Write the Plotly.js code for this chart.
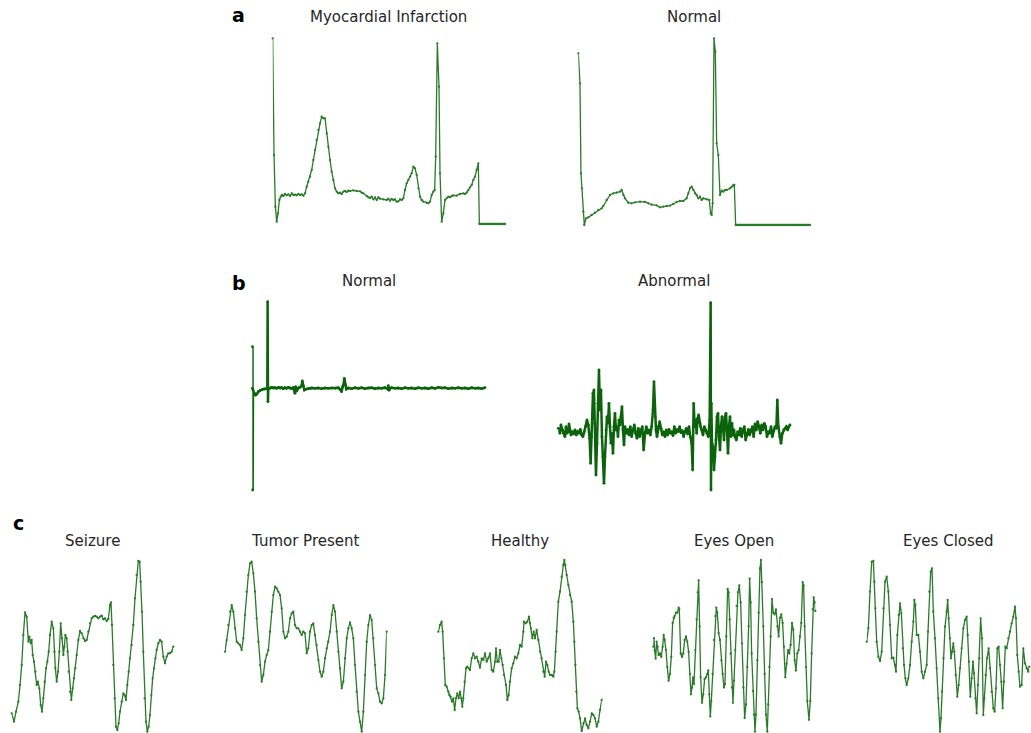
<!DOCTYPE html>
<html><head><meta charset="utf-8">
<script src="https://cdn.plot.ly/plotly-3.0.1.min.js"></script>
<style>html,body{margin:0;padding:0;background:#fff}</style>
</head><body><div id="chart" style="width:1031px;height:733px"></div>
<script>
// ---------- DATA ----------
// a: ECG – Myocardial Infarction
const miT = [38,42,46,50,54,58,62,66,70,75,80,85,90,95,100,105,110,115,120,125,130,135,140,145,150,155,160,165,170,175,180,185,190,195,200,205,210,215,220,225,230,235,240,245,250,255,260,265,270,280,290,300,305,310,320,325,330,335,340,345,350,355,360,370,380,385,390,395,400,405,410,415,420,425,430,435,440,445,450,455,460,465,470,475,480,485,490,500,505,510,515,520,524,527,532,537,540,545,550,555,560,565,570,575,580,590,600,610,615,620,625,630,635,640,645,650,655,658,661,664,667,670,673,676,679,682,685,688,691,694,697,700,703,706,709,712,715,718,721,724,727,730,733,735];
const miV = [485,135,-20,-65,-40,0,10,15,12,18,14,17,12,20,15,16,14,18,15,17,13,20,40,55,70,90,120,150,180,210,230,250,245,245,200,160,120,85,60,35,25,20,22,18,25,27,24,28,27,29,27,26,22,20,12,8,6,10,2,8,0,8,4,2,0,4,-2,3,0,2,-5,-4,2,0,5,30,50,60,70,80,100,95,75,35,10,0,-5,-8,-10,-5,15,25,30,130,470,340,80,-65,-40,0,5,10,8,12,14,13,18,20,18,22,30,38,45,60,70,90,110,-72,-72,-72,-72,-72,-72,-72,-72,-72,-72,-72,-72,-72,-72,-72,-72,-72,-72,-72,-72,-72,-72,-72,-72,-72,-72,-72,-72];
// a: ECG – Normal
const nT = [55,60,63,66,70,73,78,85,95,105,115,125,130,140,150,160,170,180,185,190,195,205,215,225,240,255,265,275,290,300,310,320,330,340,350,360,370,380,385,390,395,400,405,410,415,420,425,430,440,448,452,455,458,462,466,470,475,480,485,490,495,500,510,515,520,523,527,530,533,536,539,542,545,548,551,554,557,560,563,566,569,572,575,578,581,584,587,590,593,596,599,602,605,608,611,614,617,620,623,626,629,632,635,638,641,644,647,650,653,656,659,662,665,668,671,674,677,680,683,686,689,692,695,698,701,704,707,710,713,716,719,722,725,728,731,734,737,740,743,746,750];
const nV = [440,350,80,35,-35,-75,-55,-52,-45,-38,-30,-25,-18,0,15,20,22,25,30,15,5,-8,-10,-7,-5,-6,-10,-14,-16,-22,-20,-18,-17,-12,-6,-3,-3,5,20,35,40,30,20,15,5,10,0,5,2,0,-40,-45,-10,485,445,170,135,15,28,25,30,30,35,40,45,45,-75,-75,-75,-75,-75,-75,-75,-75,-75,-75,-75,-75,-75,-75,-75,-75,-75,-75,-75,-75,-75,-75,-75,-75,-75,-75,-75,-75,-75,-75,-75,-75,-75,-75,-75,-75,-75,-75,-75,-75,-75,-75,-75,-75,-75,-75,-75,-75,-75,-75,-75,-75,-75,-75,-75,-75,-75,-75,-75,-75,-75,-75,-75,-75,-75,-75,-75,-75,-75,-75,-75,-75,-75,-75,-75,-75,-75,-75,-75,-75,-75];
// b: Normal
const bnT = [82,82.5,83,84,88,92,96,100,106,112,118,124,127,128,129,130,135,140,145,150,155,160,165,170,175,180,185,190,195,200,205,210,212,215,220,225,230,232,235,238,242,248,255,260,270,280,290,300,310,320,330,340,345,350,353,356,358,361,364,370,380,390,400,410,420,430,440,450,460,470,480,488,490,492,495,500,510,520,530,540,550,560,570,580,590,600,610,620,630,640,650,660,670,680,690,700,710,720,730,740,750,760,770,780];
const bnV = [0,125,-305,-5,-15,-20,-17,-10,-6,-3,-2,-1,0,260,-40,2,0,3,1,2,0,3,1,2,-1,2,0,3,1,-1,2,-15,5,-8,1,3,8,22,8,-5,-3,-1,0,1,0,1,-1,1,0,1,0,2,-3,-10,5,12,30,10,-2,1,-1,2,0,2,-1,1,2,-1,1,0,2,-2,8,-6,0,2,0,1,-1,2,0,1,-1,2,0,1,-1,2,0,3,1,2,-1,1,0,2,0,1,-1,2,0,1,-1,2];
// b: Abnormal
const baT = [40,45,48,52,56,60,63,66,70,72,75,78,82,86,90,94,98,102,106,110,114,118,122,126,130,134,137,140,144,147,150,153,156,159,162,165,168,171,174,177,180,183,186,189,192,195,198,201,204,207,210,213,216,219,222,225,228,231,234,237,240,244,248,252,256,260,264,268,272,276,280,284,288,292,296,300,304,308,312,316,320,324,327,330,333,336,340,344,348,352,356,360,364,368,372,376,380,384,388,392,396,400,404,408,412,416,420,424,428,432,436,440,443,446,449,452,455,458,461,464,467,470,474,478,482,486,490,494,496,497,498,499,501,504,507,510,513,516,519,522,525,528,531,534,537,540,543,546,549,552,555,558,561,564,567,570,574,578,582,586,590,594,598,602,606,610,614,618,622,626,630,634,638,642,646,650,654,658,662,666,670,674,678,682,686,690,694,697,700,704,708,712,716,720,724,728,732,735];
const baV = [13,-2,23,8,-2,-12,18,-2,3,26,8,-7,3,-4,8,-7,3,-2,10,-7,-12,3,18,38,23,-17,-92,-12,118,128,28,-127,-32,88,188,68,128,-12,-72,-152,-72,8,48,28,88,18,-32,-2,-62,18,58,8,18,-12,38,23,48,78,8,-37,18,-2,10,-7,18,-12,8,23,-2,-17,13,-12,8,18,-52,-2,18,-2,8,-7,18,68,153,48,8,-12,18,33,13,-7,3,-12,8,-7,10,-2,3,-9,18,-2,8,3,18,0,6,-12,3,13,-4,18,-12,-32,-112,88,18,38,-2,43,53,28,18,8,-7,18,8,-2,-12,38,188,390,-172,88,-32,-42,-112,-72,-22,48,58,-12,-52,18,48,18,-22,48,58,8,-62,18,48,-12,28,-7,8,-12,-22,3,-7,13,-12,8,18,-22,-2,10,-7,8,18,-12,26,8,33,18,-2,23,8,28,18,-12,3,-2,18,-12,8,18,13,98,18,-12,-32,-2,8,13,18,8,18,23];
// c: EEG
const szT = [35,42,48,55,60,65,70,75,80,85,88,92,95,98,102,106,110,114,118,122,126,130,134,138,142,146,150,155,160,163,166,170,174,178,182,186,190,193,196,200,203,206,210,214,218,222,226,230,235,240,245,250,255,260,265,270,275,280,285,290,295,300,305,310,315,320,325,330,333,336,340,344,348,352,356,360,365,370,374,378,382,386,390,395,400,405,410,415,419,422,426,430,434,438,442,446,450,454,458,462,466,470,475,480,485,490,495,500,505,510,515,520];
const szV = [55,30,60,90,140,200,290,358,345,270,285,265,275,230,210,180,140,150,130,80,60,100,150,190,210,240,290,330,310,240,190,150,180,240,325,280,230,255,290,280,240,180,120,95,130,160,190,230,275,302,295,280,272,275,300,325,340,345,347,345,340,345,348,337,340,332,338,380,388,320,200,100,15,5,25,60,90,115,110,95,140,180,220,260,320,400,470,512,510,450,360,240,100,30,0,15,50,110,160,190,220,245,265,275,270,225,205,225,235,235,240,255];
const tpT = [45,50,55,60,65,70,75,80,85,90,95,100,105,110,115,120,125,130,135,140,145,150,155,160,165,170,175,180,185,190,195,200,205,210,215,220,225,230,235,240,245,250,255,260,265,270,275,280,285,290,295,300,305,310,315,320,325,330,335,340,345,350,355,360,365,370,375,380,385,390,395,400,405,410,415,420,425,430,435,440,445,450,455,460,465,470,475,480,485,490,495,500,505,510,515,520,525,530];
const tpV = [240,275,320,360,380,360,310,270,265,260,245,280,350,420,470,505,510,475,420,340,270,200,150,170,210,230,245,300,360,410,435,430,420,410,370,300,280,285,300,340,355,360,320,310,310,300,290,300,295,235,250,300,320,325,290,260,215,180,165,180,220,250,270,300,350,380,360,300,240,190,130,150,220,280,310,328,310,280,200,120,60,30,0,60,170,270,320,350,335,280,200,130,115,90,85,100,170,300];
const hyT = [55,60,65,68,72,76,80,85,88,92,96,100,104,108,112,116,120,124,127,130,134,138,142,146,150,155,160,165,170,175,180,185,190,195,200,205,210,215,220,225,228,232,236,240,244,248,252,258,262,266,270,275,280,285,290,295,300,305,310,312,317,322,327,330,333,337,341,345,350,355,360,365,370,374,378,382,386,390,395,400,403,407,410,415,420,425,430,433,436,440,445,450,455,460,463,466,469,472,476,480,485,490,495,500,505,510,515,520,525,530,535,540,545];
const hyV = [300,320,330,300,220,140,135,120,110,105,90,100,65,100,115,100,120,100,75,100,150,190,195,190,185,220,235,220,225,210,192,220,215,235,210,220,235,185,180,210,250,210,210,245,220,200,170,140,95,110,150,190,205,225,220,235,260,255,300,330,325,330,345,325,310,280,300,280,305,275,240,220,180,165,210,200,180,170,170,165,180,240,300,390,420,465,500,515,500,470,440,410,390,330,270,200,120,70,60,40,2,25,40,20,10,30,55,50,40,15,30,65,95];
const eoT = [70,72,74,77,80,83,86,90,94,98,101,104,108,112,116,120,124,128,131,134,138,142,146,148,152,156,160,164,168,172,176,180,183,186,189,192,196,200,203,206,209,212,216,220,224,228,232,235,238,241,244,248,252,256,259,262,266,270,274,278,282,285,289,293,296,299,302,306,309,312,316,320,324,328,332,336,340,344,348,352,356,359,362,365,369,372,375,378,382,386,390,393,396,400,404,408,412,415,418,422,426,430,434,438,442,446,450,454,458,462,466,470,474,478,482,486,490,494,498,502,506,510,514,518,521,524,528,532,537,541,545,548,551,554,556];
const eoV = [0,25,-10,-35,15,0,-25,-20,-30,0,35,20,-10,-60,-100,-80,-30,70,85,90,100,100,115,110,-20,-30,-20,20,30,15,-15,-80,-140,-120,-90,-110,-10,80,160,195,60,-90,-165,-140,-95,-90,-80,-70,-140,-205,-160,-80,20,90,115,100,40,20,-40,-80,-120,-110,30,170,160,80,-20,-120,-165,-100,-10,120,160,180,130,10,-120,-210,-170,-60,60,200,130,-20,-130,-200,-250,-200,-40,100,230,255,190,60,-80,-200,-250,-170,-60,30,140,100,95,110,60,30,85,95,70,0,-90,-50,-10,-20,5,70,50,-40,-70,-20,-10,30,70,190,180,60,-60,-160,-215,-160,-20,110,145,130,105];
const ecT = [80,85,90,95,100,103,106,110,115,120,125,130,135,140,145,150,155,160,165,168,172,176,180,184,188,192,196,200,205,210,215,220,223,226,230,235,240,245,250,255,260,264,268,272,276,280,285,290,295,300,303,306,310,315,320,323,326,330,333,336,340,343,347,352,356,360,365,370,375,380,383,387,391,395,399,402,406,410,414,418,422,426,430,433,437,441,446,450,455,460,464,468,472,476,480,484,488,492,496,500,505,510,515,520,525,528,532,536,540,545,550,555,560,565,568];
const ecV = [50,90,200,290,292,230,150,50,5,-8,20,150,230,245,200,100,0,2,-20,-40,70,130,165,135,30,-20,-60,-80,-60,-20,50,110,175,160,70,70,20,-40,-60,-40,-20,80,200,260,270,140,60,-30,-120,-220,-180,-100,0,95,140,175,120,60,0,20,45,20,-50,-115,-80,-30,30,90,115,125,70,-10,-115,-60,-10,-45,-120,-165,-80,0,120,60,-170,-120,-50,0,30,-30,-100,-150,-160,-90,30,35,-20,-70,-150,-70,35,30,60,80,105,125,155,120,10,-40,-85,-80,30,-15,-30,-40,-25];
const ecgTitles = ["Myocardial Infarction","Normal"];
const hrtTitles = ["Normal","Abnormal"];
const eegTitles = ["Seizure","Tumor Present","Healthy","Eyes Open","Eyes Closed"];
const panelLabels = ["a","b","c"];

// ---------- LAYOUT ----------
const W = 1031, H = 733;
const fx = p => p / W, fy = p => 1 - p / H;
const panels = [
  {t: miT, v: miV, box: [272.7, 505, 38.3, 224], title: ecgTitles[0], ty: 17, kind: 'a'},
  {t: nT, v: nV, box: [578.3, 810, 38.3, 225], title: ecgTitles[1], ty: 17, kind: 'a'},
  {t: bnT, v: bnV, box: [252.3, 485, 301.7, 490], title: hrtTitles[0], ty: 281, kind: 'b'},
  {t: baT, v: baV, box: [558.3, 790, 302.7, 490], title: hrtTitles[1], ty: 281, kind: 'b'},
  {t: szT, v: szV, box: [11.7, 173.3, 561, 731.7], title: eegTitles[0], ty: 541, kind: 'c'},
  {t: tpT, v: tpV, box: [225, 386.7, 561.7, 731.7], title: eegTitles[1], ty: 541, kind: 'c'},
  {t: hyT, v: hyV, box: [438.3, 601.7, 560, 731], title: eegTitles[2], ty: 541, kind: 'c'},
  {t: eoT, v: eoV, box: [653.3, 815.3, 560, 731.7], title: eegTitles[3], ty: 541, kind: 'c'},
  {t: ecT, v: ecV, box: [866.7, 1029.3, 561, 731.7], title: eegTitles[4], ty: 541, kind: 'c'}
];
const traces = [], layout = {
  width: W, height: H, margin: {l: 0, r: 0, t: 0, b: 0},
  paper_bgcolor: '#fff', plot_bgcolor: 'rgba(0,0,0,0)', showlegend: false,
  annotations: []
};
panels.forEach((p, i) => {
  const n = i + 1, xa = 'xaxis' + (n === 1 ? '' : n), ya = 'yaxis' + (n === 1 ? '' : n);
  const thick = p.kind === 'b';
  traces.push({
    x: p.t, y: p.v, type: 'scatter', mode: 'lines+markers',
    xaxis: 'x' + (n === 1 ? '' : n), yaxis: 'y' + (n === 1 ? '' : n),
    line: {color: thick ? '#0b630b' : '#2a7a2a', width: thick ? 2.5 : 1.3},
    marker: {color: thick ? '#0b630b' : '#2a7a2a', size: thick ? 2.8 : 2.3},
    cliponaxis: false, hoverinfo: 'skip'
  });
  const ax = {showgrid: false, zeroline: false, showticklabels: false, showline: false, ticks: ''};
  layout[xa] = Object.assign({}, ax, {domain: [fx(p.box[0]), fx(p.box[1])], range: [Math.min(...p.t), Math.max(...p.t)], anchor: 'y' + (n === 1 ? '' : n)});
  layout[ya] = Object.assign({}, ax, {domain: [fy(p.box[3]), fy(p.box[2])], range: [Math.min(...p.v), Math.max(...p.v)], anchor: 'x' + (n === 1 ? '' : n)});
  layout.annotations.push({
    text: p.title, xref: 'paper', yref: 'paper', showarrow: false,
    x: fx((p.box[0] + p.box[1]) / 2), y: fy(p.ty), xanchor: 'center', yanchor: 'middle',
    font: {family: 'DejaVu Sans', size: 15, color: '#262626'}
  });
});
const labelPos = [[238, 15], [239, 283], [18, 523]];
panelLabels.forEach((l, i) => layout.annotations.push({
  text: '<b>' + l + '</b>', xref: 'paper', yref: 'paper', showarrow: false,
  x: fx(labelPos[i][0]), y: fy(labelPos[i][1]), xanchor: 'center', yanchor: 'middle',
  font: {family: 'DejaVu Sans', size: 19, color: '#000'}
}));
Plotly.newPlot('chart', traces, layout, {staticPlot: true});
</script></body></html>
